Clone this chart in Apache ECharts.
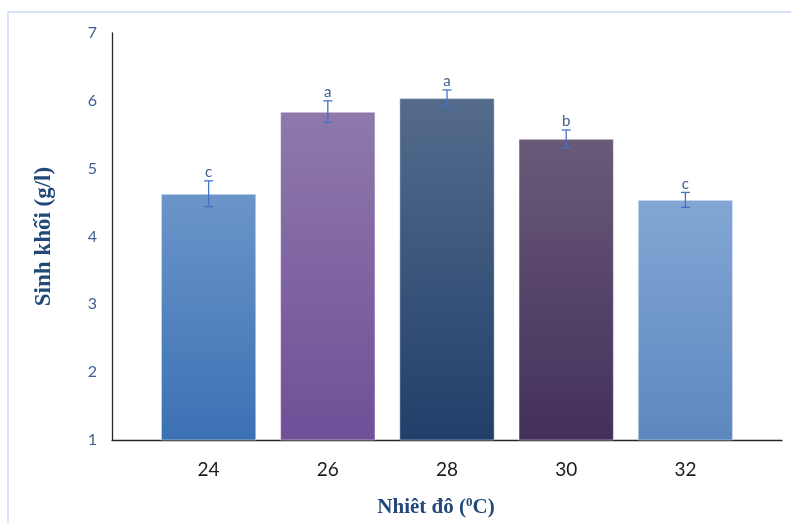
<!DOCTYPE html>
<html>
<head>
<meta charset="utf-8">
<script src="https://cdn.jsdelivr.net/npm/echarts@6/dist/echarts.min.js"></script>
<style>
  html, body { margin: 0; padding: 0; background: #fff; }
  #chart { width: 791px; height: 523px; }
</style>
</head>
<body>
<div id="chart"></div>
<script>
// Biomass (g/l) by temperature, with standard-error bars and significance letters
const categories = ['24', '26', '28', '30', '32'];
const biomass = [4.63, 5.84, 6.04, 5.44, 4.54];
const errors = [0.19, 0.16, 0.12, 0.13, 0.11];
const letters = ['c', 'a', 'a', 'b', 'c'];
const yTicks = [1, 2, 3, 4, 5, 6, 7];

// top / bottom gradient colours of each bar
const barTop = ['#6C95C9', '#8F79AB', '#546B8C', '#6A5A79', '#83A6D4'];
const barBottom = ['#3A71B4', '#6F4F98', '#213F6A', '#42305A', '#5D88BF'];

const chart = echarts.init(document.getElementById('chart'));

const yMin = yTicks[0];
const yMax = yTicks[yTicks.length - 1];

chart.setOption({
  animation: false,
  backgroundColor: '#ffffff',
  graphic: [{
    type: 'rect',
    shape: { x: 8, y: 12, width: 800, height: 520 },
    style: { fill: 'none', stroke: '#D5E3F4', lineWidth: 2 },
    silent: true
  }],
  grid: [
    { left: 112, right: 9, top: 33, bottom: 83, outerBoundsMode: 'none', containLabel: false },
    { left: 149, right: 46, top: 33, bottom: 83, outerBoundsMode: 'none', containLabel: false }
  ],
  xAxis: [
    {
      gridIndex: 0,
      type: 'category',
      data: categories,
      axisLine: { lineStyle: { color: '#262626', width: 1.3 } },
      axisTick: { show: false },
      axisLabel: { show: false },
      name: 'Nhiêt đô ({sup|0}C)',
      nameLocation: 'middle',
      nameGap: 56,
      nameTextStyle: {
        fontFamily: 'Liberation Serif',
        fontWeight: 'bold',
        fontSize: 21,
        color: '#23487A',
        padding: [0, 22, 0, 0],
        rich: {
          sup: {
            fontFamily: 'Liberation Serif',
            fontWeight: 'bold',
            fontSize: 13,
            color: '#23487A',
            padding: [0, 0, 10, 0]
          }
        }
      }
    },
    {
      gridIndex: 1,
      type: 'category',
      data: categories,
      axisLine: { show: false },
      axisTick: { show: false },
      axisLabel: {
        margin: 20,
        fontFamily: 'Lato',
        fontSize: 19,
        color: '#1a1a1a'
      }
    }
  ],
  yAxis: [
    {
      gridIndex: 0,
      type: 'value',
      min: yMin,
      max: yMax,
      interval: 1,
      splitLine: { show: false },
      axisTick: { show: false },
      axisLine: { show: true, lineStyle: { color: '#262626', width: 1.3 } },
      axisLabel: {
        margin: 15,
        fontFamily: 'Lato',
        fontSize: 16,
        color: '#41608F'
      },
      name: 'Sinh khối (g/l)',
      nameLocation: 'middle',
      nameGap: 56,
      nameRotate: 90,
      nameTextStyle: {
        fontFamily: 'Liberation Serif',
        fontWeight: 'bold',
        fontSize: 23,
        color: '#23487A'
      }
    },
    {
      gridIndex: 1,
      type: 'value',
      min: yMin,
      max: yMax,
      interval: 1,
      show: false
    }
  ],
  series: [
    {
      type: 'bar',
      xAxisIndex: 1,
      yAxisIndex: 1,
      barWidth: '80%',
      data: biomass.map((v, i) => ({
        value: v,
        itemStyle: {
          color: new echarts.graphic.LinearGradient(0, 0, 0, 1, [
            { offset: 0, color: barTop[i] },
            { offset: 1, color: barBottom[i] }
          ]),
          borderColor: 'rgba(255,255,255,0.45)',
          borderWidth: 1
        }
      }))
    },
    {
      type: 'custom',
      xAxisIndex: 1,
      yAxisIndex: 1,
      z: 5,
      data: biomass.map((v, i) => [i, v, errors[i]]),
      renderItem: function (params, api) {
        const idx = api.value(0);
        const mean = api.value(1);
        const err = api.value(2);
        const hi = api.coord([idx, mean + err]);
        const lo = api.coord([idx, mean - err]);
        const cap = 4.5;
        const stroke = { stroke: '#4472C4', lineWidth: 1.3 };
        return {
          type: 'group',
          children: [
            { type: 'line', shape: { x1: hi[0], y1: hi[1], x2: lo[0], y2: lo[1] }, style: stroke },
            { type: 'line', shape: { x1: hi[0] - cap, y1: hi[1], x2: hi[0] + cap, y2: hi[1] }, style: stroke },
            { type: 'line', shape: { x1: lo[0] - cap, y1: lo[1], x2: lo[0] + cap, y2: lo[1] }, style: stroke },
            {
              type: 'text',
              x: hi[0],
              y: hi[1] - 1,
              style: {
                text: letters[params.dataIndex],
                align: 'center',
                verticalAlign: 'bottom',
                fill: '#41608F',
                font: '15px Lato'
              }
            }
          ]
        };
      }
    }
  ]
});
</script>
</body>
</html>
